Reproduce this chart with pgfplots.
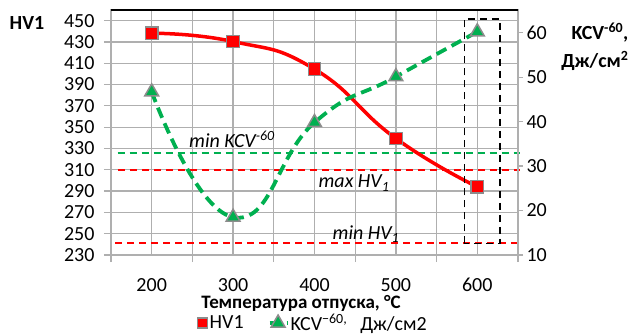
\documentclass[border=0pt]{standalone}
\usepackage{fontspec}
\setmainfont{Carlito}
\usepackage{pgfplots}
\pgfplotsset{compat=1.18}
\definecolor{xlred}{RGB}{255,0,0}
\definecolor{xlgreen}{RGB}{0,176,80}
\definecolor{gridgray}{RGB}{175,175,175}
\definecolor{mkgray}{RGB}{140,140,140}
\newcommand{\fs}{\fontsize{20}{23}\selectfont}
\begin{document}
\begin{tikzpicture}[x=1pt,y=1pt]
\path[use as bounding box] (-111,-80) rectangle (524,255);
\begin{axis}[
  at={(0,0)}, anchor=south west,
  scale only axis, width=407pt, height=245pt,
  xmin=150, xmax=650, ymin=230, ymax=460,
  xtick={150,250,...,650}, xticklabels={},
  minor xtick={200,300,...,600},
  ytick={230,250,...,450},
  grid=both,
  major grid style={gridgray, line width=1.2pt},
  minor grid style={gridgray, line width=1.2pt},
  axis line style={gridgray, line width=1.2pt},
  tick style={gridgray, line width=1.2pt},
  tick align=outside, tick pos=left,
  major tick length=7pt, minor tick length=0pt,
  extra x ticks={200,300,...,600},
  extra x tick labels={200,300,400,500,600},
  extra x tick style={grid=none, major tick length=0pt, tick label style={inner sep=0pt, yshift=-23pt}},
  tick label style={font=\fs, text=black},
  yticklabel style={xshift=-6pt},
  /pgf/number format/assume math mode=true,
  clip=false,
]
\addplot[xlred, line width=1.6pt, dash pattern=on 7pt off 5pt] coordinates {(158,310) (653,310)};
\addplot[xlgreen, line width=1.6pt, dash pattern=on 7pt off 5pt] coordinates {(158,325.5) (653,325.5)};
\addplot[xlred, line width=1.6pt, dash pattern=on 7pt off 5pt] coordinates {(155,241.5) (650,241.5)};
\addplot[xlred, line width=3.5pt, smooth, tension=0.85,
  mark=square*, mark size=6.3pt,
  mark options={solid, fill=xlred, draw=mkgray, line width=1.3pt}]
  coordinates {(200,438.2) (300,430.4) (400,404.5) (500,339.4) (600,294)};
\draw[black, line width=1.4pt, dash pattern=on 7pt off 5pt] (axis cs:584,241) rectangle (axis cs:628,451.6);
\end{axis}
\begin{axis}[
  at={(0,0)}, anchor=south west,
  scale only axis, width=407pt, height=245pt,
  xmin=150, xmax=650, ymin=10, ymax=65.1,
  axis x line=none, axis y line*=right,
  ytick={10,20,...,60},
  axis line style={gridgray, line width=1.2pt},
  tick style={gridgray, line width=1.2pt},
  tick align=outside, major tick length=5pt,
  tick label style={font=\fs, text=black},
  /pgf/number format/assume math mode=true,
  legend style={at={(0.497,-0.2776)}, anchor=center, draw=none, fill=none,
    legend columns=-1, font=\fs,
    /tikz/every even column/.append style={column sep=22pt}},
  legend cell align=left,
]
\addlegendimage{only marks, mark=square*, mark size=5pt, mark options={fill=xlred, draw=mkgray, line width=1.2pt}}
\addlegendentry{HV1}
\addplot[xlgreen, line width=3.8pt, smooth, tension=0.85, dash pattern=on 11pt off 6pt,
  mark=triangle*, mark size=8pt,
  mark options={solid, fill=xlgreen, draw=mkgray, line width=1.5pt}]
  coordinates {(200,46.7) (300,18.5) (400,39.8) (500,50.1) (600,60.2)};
\addlegendentry{KCV\textsuperscript{−60,}\hspace{13pt}Дж/см2}
\end{axis}
\draw[black, line width=1.4pt] (0,245) -- (407,245);
\node[anchor=base, font=\bfseries\fs] at (-84,225) {HV1};
\node[anchor=base, font=\bfseries\fs] at (489,215) {KCV\textsuperscript{-60},};
\node[anchor=base, font=\bfseries\fs] at (484,187) {Дж/см\textsuperscript{2}};
\node[anchor=center, inner sep=0pt, font=\bfseries\fontsize{19}{22}\selectfont] at (190,-48.5) {Температура отпуска, °C};
\node[anchor=base, font=\itshape\fs] at (121,107) {min KCV\textsuperscript{-60}};
\node[anchor=base, font=\itshape\fs] at (243,67) {max HV\textsubscript{1}};
\node[anchor=base, font=\itshape\fs] at (255,16) {min HV\textsubscript{1}};
\end{tikzpicture}
\end{document}
